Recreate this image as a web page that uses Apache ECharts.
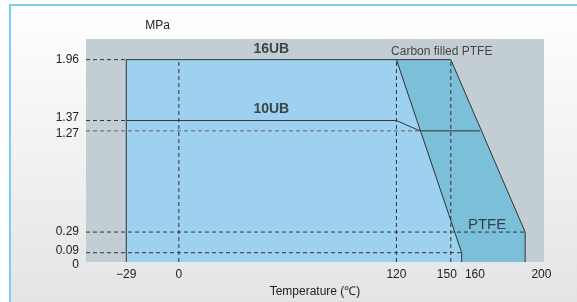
<!DOCTYPE html>
<html>
<head>
<meta charset="utf-8">
<script src="https://cdn.jsdelivr.net/npm/echarts@6/dist/echarts.min.js"></script>
<style>
  html, body { margin: 0; padding: 0; background: #fff; }
  .frame {
    position: absolute; left: 9px; top: 4px; right: 0; bottom: 0;
    border-top: 2px solid #7dcdee; border-left: 2px solid #7dcdee;
    background: linear-gradient(#ffffff, #e3e4e6);
  }
  #chart { position: absolute; left: 0; top: 0; width: 577px; height: 302px; }
</style>
</head>
<body>
<div class="frame"></div>
<div id="chart"></div>
<script>
// tick labels
const xTicks = [-29, 0, 120, 150, 160, 200]
const yTicks = [0, 0.09, 0.29, 1.27, 1.37, 1.96]

// outlines [temperature, MPa]
const ub16 = [[-29, 0], [-29, 1.96], [120, 1.96], [156, 0.09], [156, 0]]
const ptfe = [[120, 1.96], [150, 1.96], [191, 0.29], [191, 0]]
const ub10 = [[-29, 1.37], [120, 1.37], [133, 1.27], [166, 1.27]]

// dashed guides: horizontal [MPa, end temperature], vertical temperatures
const hGuides = [[1.96, -29], [1.37, -29], [1.27, 133], [0.29, 191], [0.09, 156]]
const vGuides = [0, 120, 150]

// text notes [text, temperature, MPa]
const notes = [
  ['16UB', 51, 2.06],
  ['10UB', 51, 1.48],
  ['Carbon filled PTFE', 145, 2.04],
  ['PTFE', 170, 0.36]
]

const X_MIN = -51.2
const X_MAX = 201.4
const Y_MAX = 2.16
const FONT = 'Liberation Sans, Arial, sans-serif'

// the original axis is drawn out of scale, so close tick labels get nudged apart
const xNudge = { 150: 'l', 160: 'r' }
const yNudge = { 1.37: 'u', 1.27: 'd', 0.09: 'u', 0: 'd' }

let chart = echarts.init(document.getElementById('chart'), null, { renderer: 'canvas' })

let series = []

// carbon filled PTFE area, drawn first so 16UB sits over it
series.push({
  type: 'line',
  data: ptfe,
  showSymbol: false,
  silent: true,
  z: 2,
  lineStyle: { color: '#333', width: 1 },
  areaStyle: { color: '#7bbfd9', opacity: 1 }
})
series.push({
  type: 'line',
  data: ub16,
  showSymbol: false,
  silent: true,
  z: 3,
  lineStyle: { color: '#333', width: 1 },
  areaStyle: { color: '#9ed1f0', opacity: 1 }
})

hGuides.forEach(g => {
  series.push({
    type: 'line',
    data: [[X_MIN, g[0]], [g[1], g[0]]],
    showSymbol: false,
    silent: true,
    z: 4,
    lineStyle: { color: g[0] === 1.27 ? '#666' : '#333', width: 1, type: [4, 3] }
  })
})
vGuides.forEach(t => {
  series.push({
    type: 'line',
    data: [[t, 0], [t, 1.96]],
    showSymbol: false,
    silent: true,
    z: 4,
    lineStyle: { color: '#333', width: 1, type: [4, 3] }
  })
})

series.push({
  type: 'line',
  data: ub10,
  showSymbol: false,
  silent: true,
  z: 5,
  lineStyle: { color: '#333', width: 1 }
})

series.push({
  type: 'scatter',
  symbolSize: 0,
  silent: true,
  z: 6,
  data: notes.map(n => {
    let style = { fontSize: 12 }
    if (n[0].indexOf('UB') > 0) style = { fontSize: 14, fontWeight: 'bold' }
    if (n[0] === 'PTFE') style = { fontSize: 15 }
    return { value: [n[1], n[2]], name: n[0], label: style }
  }),
  label: {
    show: true,
    position: [0, 0],
    align: 'center',
    verticalAlign: 'middle',
    fontFamily: FONT,
    color: '#222',
    formatter: p => p.name
  }
})

let labelStyle = { fontFamily: FONT, fontSize: 12, color: '#222' }

let option = {
  animation: false,
  grid: {
    left: 86, right: 33, top: 39, bottom: 40,
    outerBoundsMode: 'none',
    containLabel: false,
    show: true,
    backgroundColor: '#c3ced4',
    borderWidth: 0
  },
  xAxis: {
    type: 'value',
    min: X_MIN,
    max: X_MAX,
    name: 'Temperature (℃)',
    nameLocation: 'middle',
    nameGap: 24,
    nameTextStyle: labelStyle,
    axisLine: { show: false },
    axisTick: { show: false },
    splitLine: { show: false },
    axisLabel: Object.assign({
      customValues: xTicks,
      hideOverlap: false,
      margin: 7,
      formatter: v => {
        let s = v < 0 ? '\u2212' + (-v) : String(v)
        return xNudge[v] ? '{' + xNudge[v] + '|' + s + '}' : s
      },
      rich: {
        l: Object.assign({ padding: [0, 8, 0, 0] }, labelStyle),
        r: Object.assign({ padding: [0, 0, 0, 12] }, labelStyle)
      }
    }, labelStyle)
  },
  yAxis: {
    type: 'value',
    min: 0,
    max: Y_MAX,
    name: 'MPa',
    nameLocation: 'end',
    nameGap: 7,
    nameTextStyle: Object.assign({
      align: 'right', verticalAlign: 'bottom', padding: [0, 9, 0, 0]
    }, labelStyle),
    axisLine: { show: false },
    axisTick: { show: false },
    splitLine: { show: false },
    axisLabel: Object.assign({
      customValues: yTicks,
      hideOverlap: false,
      showMinLabel: true,
      margin: 7,
      formatter: v => yNudge[v] ? '{' + yNudge[v] + '|' + v + '}' : String(v),
      rich: {
        u: Object.assign({ padding: [0, 0, 5, 0] }, labelStyle),
        d: Object.assign({ padding: [5, 0, 0, 0] }, labelStyle)
      }
    }, labelStyle)
  },
  series
}

chart.setOption(option)
</script>
</body>
</html>
